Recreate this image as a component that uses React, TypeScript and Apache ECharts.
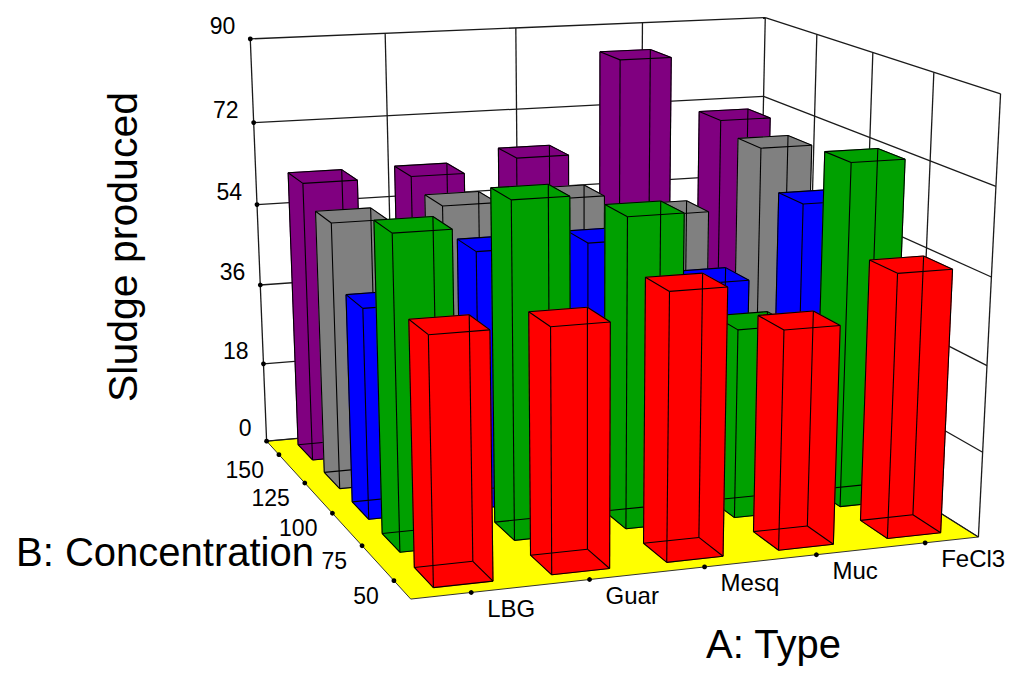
import React, { useEffect, useRef } from "react";
import * as echarts from "echarts";

// ---- data ----
const types = ["LBG", "Guar", "Mesq", "Muc", "FeCl3"];
const concentrations = ["50", "75", "100", "125", "150"];
const valueTicks = [0, 18, 36, 54, 72, 90];
const seriesColors = ["#FF0000", "#00A000", "#0000FF", "#808080", "#800080"];
// Sludge produced, one array per concentration level, in the order of `types`
const conc50 = [49.9, 49.6, 54.7, 45.3, 54.9];
const conc75 = [64.5, 69.5, 64.7, 40.0, 72.8];
const conc100 = [44.6, 54.6, 54.8, 44.5, 60.0];
const conc125 = [57.5, 59.6, 59.6, 54.7, 67.9];
const conc150 = [61.6, 61.7, 64.4, 84.7, 70.2];
const valueRows = [conc50, conc75, conc100, conc125, conc150];
const zMax = 90;

// ---- layout ----
const W = 1009;
const H = 680;
const BAR_W = 0.5; // fraction of a category cell
const BAR_D = 0.56;
const FONT = '"Liberation Sans", Arial, sans-serif';

// screen anchors of the plot box: [u, v, h, x, y] (u: A left->right, v: B front->back, h: height)
const anchors: number[][] = [
  [0, 1, 0, 267, 442],
  [0, 0, 0, 412, 599],
  [1, 0, 0, 980, 537],
  [0, 1, 1, 250, 42],
  [1, 1, 1, 766, 19],
  [1, 0, 1, 1001, 96],
  [0, 1, 0.8, 253, 122],
  [1, 1, 0.8, 763, 96],
  [1, 0, 0.8, 997, 183],
  [0, 1, 0.6, 257, 202],
  [0, 1, 0.4, 259, 282],
  [0, 1, 0.2, 263, 362],
  [0, 0.9, 0, 281, 458],
  [0, 0.1, 0, 397, 582],
  [0.1, 0, 0, 467, 592],
  [0.9, 0, 0, 922, 543],
];

function solve(A: number[][], b: number[]) {
  const n = b.length;
  const M = A.map((row, i) => [...row, b[i]]);
  for (let c = 0; c < n; c++) {
    let piv = c;
    for (let r = c + 1; r < n; r++) if (Math.abs(M[r][c]) > Math.abs(M[piv][c])) piv = r;
    const tmp = M[c];
    M[c] = M[piv];
    M[piv] = tmp;
    for (let r = 0; r < n; r++) {
      if (r === c) continue;
      const f = M[r][c] / M[c][c];
      for (let k = c; k <= n; k++) M[r][k] -= f * M[c][k];
    }
  }
  return M.map((row, i) => row[n] / row[i]);
}

function fitCamera() {
  const n = 11;
  const A = Array.from({ length: n }, () => new Array(n).fill(0));
  const b = new Array(n).fill(0);
  const add = (row: number[], rhs: number) => {
    for (let i = 0; i < n; i++) {
      for (let j = 0; j < n; j++) A[i][j] += row[i] * row[j];
      b[i] += row[i] * rhs;
    }
  };
  for (const [u, v, h, x, y] of anchors) {
    const X = x / 1000;
    const Y = y / 1000;
    add([u, v, h, 1, 0, 0, 0, 0, -X * u, -X * v, -X * h], X);
    add([0, 0, 0, 0, u, v, h, 1, -Y * u, -Y * v, -Y * h], Y);
  }
  return solve(A, b);
}

function project(p: number[], u: number, v: number, h: number) {
  const w = p[8] * u + p[9] * v + p[10] * h + 1;
  return [
    (1000 * (p[0] * u + p[1] * v + p[2] * h + p[3])) / w,
    (1000 * (p[4] * u + p[5] * v + p[6] * h + p[7])) / w,
    w,
  ];
}

export default function App() {
  const ref = useRef<HTMLDivElement>(null);
  useEffect(() => {
    const el = ref.current!;
    const chart = echarts.init(el, undefined, { renderer: "svg", width: W, height: H });
    const P = fitCamera();
    const nT = types.length;
    const nC = concentrations.length;
    const hu = BAR_W / nT / 2;
    const hv = BAR_D / nC / 2;

    // bars, sorted far -> near for painter's order
    const items: { value: number[]; depth: number }[] = [];
    for (let j = 0; j < nC; j++) {
      for (let i = 0; i < nT; i++) {
        const d = project(P, (i + 0.5) / nT, (j + 0.5) / nC, 0)[2];
        items.push({ value: [i, j, valueRows[j][i]], depth: d });
      }
    }
    items.sort((a, b) => b.depth - a.depth);

    const px = (api: any, u: number, v: number, h: number) => {
      const q = project(P, u, v, h);
      return api.coord([q[0], q[1]]);
    };

    const barRender = (params: any, api: any) => {
      const ti = api.value(0);
      const ci = api.value(1);
      const val = api.value(2);
      const uc = (ti + 0.5) / nT;
      const vc = (ci + 0.5) / nC;
      const hh = val / zMax;
      const c: number[][] = [];
      for (let k = 0; k < 8; k++) {
        c.push(px(api, uc + (k & 1 ? hu : -hu), vc + (k & 2 ? hv : -hv), k & 4 ? hh : 0));
      }
      const color = seriesColors[ci];
      const faces = [
        [0, 2, 6, 4],
        [1, 3, 7, 5],
        [0, 1, 5, 4],
        [2, 3, 7, 6],
        [0, 1, 3, 2],
        [4, 5, 7, 6],
      ];
      const z = params.dataIndex * 3;
      const children: any[] = faces.map((f) => ({
        type: "polygon",
        z2: z,
        shape: { points: f.map((k) => c[k]) },
        style: { fill: color, stroke: color, lineWidth: 0.5 },
        silent: true,
      }));
      for (let k = 0; k < 8; k++) {
        for (const bit of [1, 2, 4]) {
          if (!(k & bit)) {
            const a = c[k];
            const b = c[k | bit];
            children.push({
              type: "line",
              z2: z + 1,
              shape: { x1: a[0], y1: a[1], x2: b[0], y2: b[1] },
              style: { stroke: "#000", lineWidth: 1.1 },
              silent: true,
            });
          }
        }
      }
      return { type: "group", children };
    };

    const frameRender = (_params: any, api: any) => {
      const pt = (u: number, v: number, h: number) => px(api, u, v, h);
      const children: any[] = [];
      const line = (a: number[], b: number[], w = 1.3, col = "#1a1a1a") =>
        children.push({
          type: "line",
          shape: { x1: a[0], y1: a[1], x2: b[0], y2: b[1] },
          style: { stroke: col, lineWidth: w },
          silent: true,
        });
      // floor
      children.push({
        type: "polygon",
        shape: { points: [pt(0, 0, 0), pt(1, 0, 0), pt(1, 1, 0), pt(0, 1, 0)] },
        style: { fill: "#FFFF00", stroke: "#333", lineWidth: 1 },
        silent: true,
      });
      // walls
      for (const t of valueTicks) {
        const h = t / zMax;
        line(pt(0, 1, h), pt(1, 1, h));
        line(pt(1, 1, h), pt(1, 0, h));
      }
      for (const q of [0.25, 0.5, 0.75, 1]) line(pt(q, 1, 0), pt(q, 1, 1));
      for (const q of [0.75, 0.5, 0.25, 0]) line(pt(1, q, 0), pt(1, q, 1));
      line(pt(0, 1, 0), pt(0, 1, 1));
      const dot = (p: number[]) =>
        children.push({
          type: "circle",
          shape: { cx: p[0], cy: p[1], r: 2.4 },
          style: { fill: "#000" },
          silent: true,
        });
      const text = (x: number, y: number, s: string, align: string, size: number) =>
        children.push({
          type: "text",
          x,
          y,
          silent: true,
          style: {
            text: s,
            fill: "#000",
            font: `${size}px ${FONT}`,
            textAlign: align,
            align,
            textVerticalAlign: "middle",
            verticalAlign: "middle",
          },
        });
      valueTicks.forEach((t) => {
        const p = pt(0, 1, t / zMax);
        dot(p);
        text(p[0] - 15, p[1] - 13, String(t), "right", 23);
      });
      concentrations.forEach((s, j) => {
        const p = pt(0, (j + 0.5) / nC, 0);
        dot(p);
        text(p[0] - 15, p[1] + 15, s, "right", 23);
      });
      types.forEach((s, i) => {
        const p = pt((i + 0.5) / nT, 0, 0);
        dot(p);
        text(p[0] + 16, p[1] + 16, s, "left", 24);
      });
      return { type: "group", children };
    };

    const titleStyle = (text: string, align: string, size: number) => ({
      text,
      fill: "#000",
      font: `${size}px ${FONT}`,
      textAlign: align,
      align,
      textVerticalAlign: "middle",
      verticalAlign: "middle",
    });

    chart.setOption({
      animation: false,
      backgroundColor: "#ffffff",
      grid: { left: 0, right: 0, top: 0, bottom: 0 },
      xAxis: { type: "value", min: 0, max: W, show: false },
      yAxis: { type: "value", min: 0, max: H, inverse: true, show: false },
      series: [
        {
          type: "custom",
          name: "frame",
          z: 1,
          silent: true,
          renderItem: frameRender,
          data: [[0, 0]],
        },
        {
          type: "custom",
          name: "Sludge produced",
          z: 2,
          silent: true,
          renderItem: barRender,
          data: items.map((d) => d.value),
        },
      ],
      graphic: [
        {
          type: "text",
          x: 123,
          y: 247,
          rotation: Math.PI / 2,
          silent: true,
          style: titleStyle("Sludge produced", "center", 41),
        },
        { type: "text", x: 16, y: 552, silent: true, style: titleStyle("B: Concentration", "left", 40) },
        { type: "text", x: 706, y: 644, silent: true, style: titleStyle("A: Type", "left", 40) },
      ],
    });
    return () => chart.dispose();
  }, []);
  return (
    <div
      ref={ref}
      style={{ position: "fixed", left: 0, top: 0, width: W, height: H, background: "#fff" }}
    />
  );
}
